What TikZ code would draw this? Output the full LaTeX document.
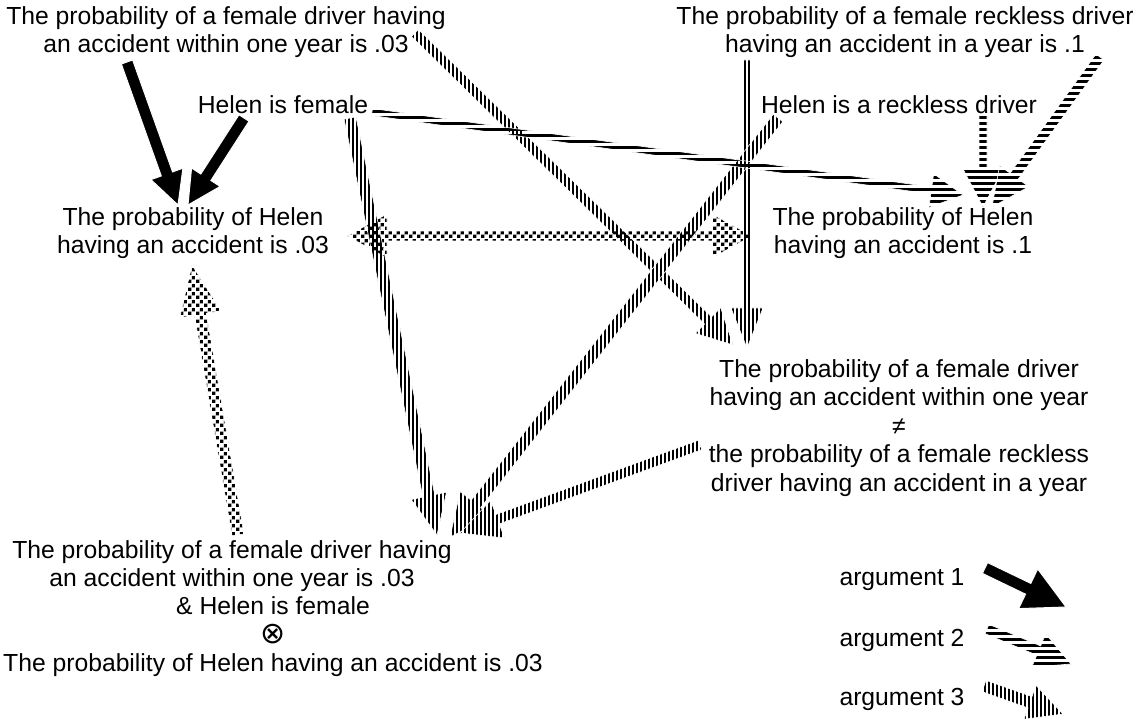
\documentclass[tikz,border=0pt]{standalone}
\usepackage{fontspec}
\setmainfont{Liberation Sans}
\newfontfamily\symfont{DejaVu Sans}
\usetikzlibrary{calc,patterns}

% fill patterns for the three kinds of arrows
\pgfdeclarepatternformonly{vstripes}{\pgfqpoint{-0.1pt}{-0.1pt}}{\pgfqpoint{4.1pt}{2.1pt}}{\pgfqpoint{4pt}{2pt}}{%
  \pgfpathrectangle{\pgfqpoint{0pt}{-0.1pt}}{\pgfqpoint{2pt}{2.2pt}}\pgfusepath{fill}}
\pgfdeclarepatternformonly{hstripes}{\pgfqpoint{-0.1pt}{-0.1pt}}{\pgfqpoint{2.1pt}{6.1pt}}{\pgfqpoint{2pt}{6pt}}{%
  \pgfpathrectangle{\pgfqpoint{-0.1pt}{0pt}}{\pgfqpoint{2.2pt}{3.3pt}}\pgfusepath{fill}}
\pgfdeclarepatternformonly{checks}{\pgfqpoint{0pt}{0pt}}{\pgfqpoint{7.5pt}{7.5pt}}{\pgfqpoint{7.5pt}{7.5pt}}{%
  \pgfpathrectangle{\pgfqpoint{0.2pt}{0.2pt}}{\pgfqpoint{3.4pt}{3.4pt}}%
  \pgfpathrectangle{\pgfqpoint{3.95pt}{3.95pt}}{\pgfqpoint{3.4pt}{3.4pt}}\pgfusepath{fill}}

% fat arrow: style, from, to, shaft half-width, head half-width, head length
\newcommand{\fatarrow}[6]{%
  \coordinate (fab) at ($(#3)!#6pt!(#2)$);
  \path[#1] ($(#2)!#4pt!90:(#3)$) -- ($(fab)!#4pt!90:(#3)$) -- ($(fab)!#5pt!90:(#3)$)
    -- (#3) -- ($(fab)!#5pt!-90:(#3)$) -- ($(fab)!#4pt!-90:(#3)$) -- ($(#2)!#4pt!-90:(#3)$) -- cycle;
}
% fat arrow with a head at both ends
\newcommand{\fatdarrow}[6]{%
  \coordinate (fab) at ($(#3)!#6pt!(#2)$);
  \coordinate (faa) at ($(#2)!#6pt!(#3)$);
  \path[#1] (#2) -- ($(faa)!#5pt!90:(#3)$) -- ($(faa)!#4pt!90:(#3)$) -- ($(fab)!#4pt!90:(#3)$)
    -- ($(fab)!#5pt!90:(#3)$) -- (#3) -- ($(fab)!#5pt!-90:(#3)$) -- ($(fab)!#4pt!-90:(#3)$)
    -- ($(faa)!#4pt!-90:(#3)$) -- ($(faa)!#5pt!-90:(#3)$) -- cycle;
}

\tikzset{
  txt/.style={inner sep=0pt, align=center, font=\fontsize{24.7}{28.5}\selectfont},
  argone/.style={fill=black, draw=white, line width=1pt},
  argtwo/.style={pattern=hstripes, draw=white, line width=0.6pt},
  argthree/.style={pattern=vstripes, draw=white, line width=0.6pt},
  conflict/.style={pattern=checks, draw=white, line width=0.6pt},
}

\begin{document}
\begin{tikzpicture}[x=1pt, y=-1pt]
\useasboundingbox[fill=white] (0,0) rectangle (1133,719);

% statements
\node[txt] (pA) at (226,32) {The probability of a female driver having\\an accident within one year is .03};
\node[txt] (pB) at (905,32) {The probability of a female reckless driver\\having an accident in a year is .1};
\node[txt] (fem) at (283,105) {Helen is female};
\node[txt] (rec) at (899,105) {Helen is a reckless driver};
\node[txt] (h03) at (193,233) {The probability of Helen\\having an accident is .03};
\node[txt] (h1) at (903,233) {The probability of Helen\\having an accident is .1};
\node[txt] (neq) at (899,428) {The probability of a female driver\\having an accident within one year\\≠\\the probability of a female reckless\\driver having an accident in a year};
\node[txt] (cA) at (232,566) {The probability of a female driver having\\an accident within one year is .03};
\node[txt] (cB) at (273,637) {\& Helen is female\\{\symfont\fontsize{30}{28.5}\selectfont ⊗}\\The probability of Helen having an accident is .03};

% legend
\node[txt] (leg1) at (902,580) {argument 1};
\node[txt] (leg2) at (902,640) {argument 2};
\node[txt] (leg3) at (902,699) {argument 3};

% arrow end points
\coordinate (a1s) at ($(pA)+(-99,30)$);
\coordinate (a1e) at ($(h03)+(-15,-28)$);
\coordinate (a2s) at ($(fem)+(-39,13)$);
\coordinate (a2e) at ($(h03)+(-5,-28)$);
\coordinate (b1s) at ($(fem)+(89,7)$);
\coordinate (b1e) at ($(h1)+(60,-38)$);
\coordinate (b2s) at ($(rec)+(84,10)$);
\coordinate (b2e) at ($(h1)+(80,-26)$);
\coordinate (b3s) at ($(pB)+(195,25)$);
\coordinate (b3e) at ($(h1)+(89,-26)$);
\coordinate (c1s) at ($(pA)+(189,1)$);
\coordinate (c1e) at ($(neq)+(-166,-83)$);
\coordinate (c2s) at ($(pB)+(-158,28)$);
\coordinate (c2e) at ($(neq)+(-152,-80)$);
\coordinate (c3s) at ($(fem)+(67,13)$);
\coordinate (c3e) at ($(cA)+(205,-31)$);
\coordinate (c4s) at ($(rec)+(-121,13)$);
\coordinate (c4e) at ($(cA)+(218,-29)$);
\coordinate (c5s) at ($(neq)+(-199,17)$);
\coordinate (c5e) at ($(cA)+(228,-33)$);
\coordinate (d1s) at ($(h03)+(154,3)$);
\coordinate (d1e) at ($(h1)+(-151,3)$);
\coordinate (d2s) at ($(cA)+(6,-31)$);
\coordinate (d2e) at ($(h03)+(-1,32)$);
\coordinate (l1s) at ($(leg1)+(83,-12)$);
\coordinate (l1e) at ($(leg1)+(164,27)$);
\coordinate (l2s) at ($(leg2)+(85,-11)$);
\coordinate (l2e) at ($(leg2)+(169,24)$);
\coordinate (l3s) at ($(leg3)+(82,-13)$);
\coordinate (l3e) at ($(leg3)+(161,15)$);

% conflicts
\fatdarrow{conflict}{d1s}{d1e}{5}{22}{40}
\fatarrow{conflict}{d2s}{d2e}{6}{21}{50}

% argument 3
\fatarrow{argthree}{c1s}{c1e}{5}{18}{35}
\fatarrow{argthree}{c2s}{c2e}{3.5}{16}{40}
\fatarrow{argthree}{c3s}{c3e}{6}{18}{40}
\fatarrow{argthree}{c4s}{c4e}{6}{20}{42}
\fatarrow{argthree}{c5s}{c5e}{5}{20}{40}

% argument 2
\fatarrow{argtwo}{b1s}{b1e}{3.5}{17}{32}
\fatarrow{argtwo}{b2s}{b2e}{4}{20}{38}
\fatarrow{argtwo}{b3s}{b3e}{5}{18}{38}

% argument 1
\fatarrow{argone}{a1s}{a1e}{6}{17}{33}
\fatarrow{argone}{a2s}{a2e}{6}{17}{33}

% legend arrows
\fatarrow{argone}{l1s}{l1e}{6}{22}{42}
\fatarrow{argtwo}{l2s}{l2e}{5}{18}{35}
\fatarrow{argthree}{l3s}{l3e}{6}{18}{35}
\end{tikzpicture}
\end{document}
